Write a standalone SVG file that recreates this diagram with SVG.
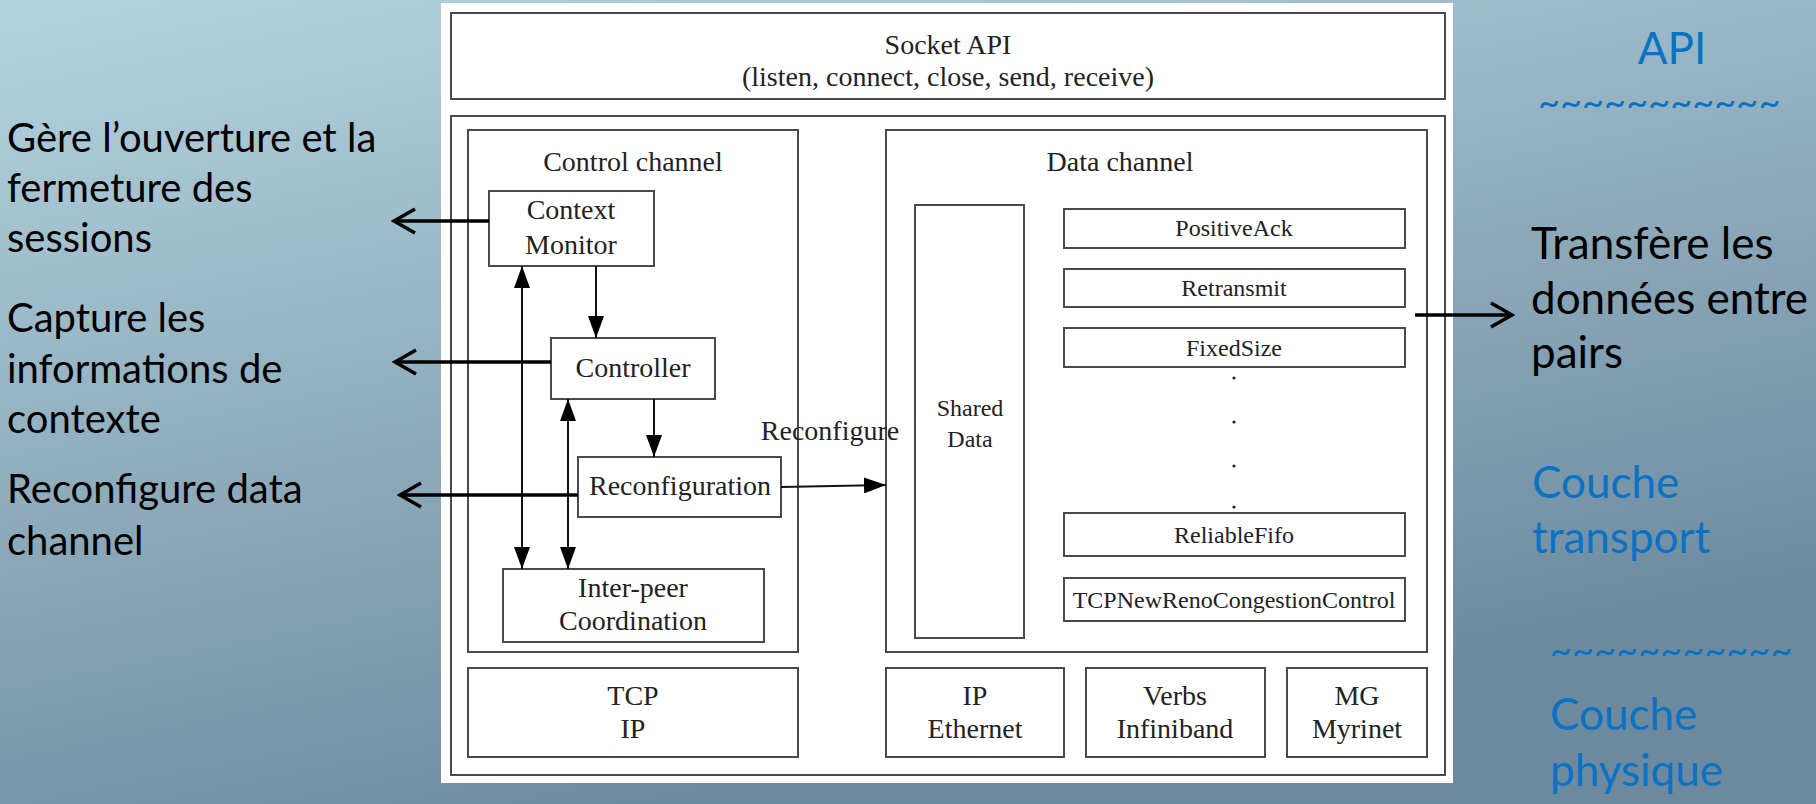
<svg xmlns="http://www.w3.org/2000/svg" width="1816" height="804" viewBox="0 0 1816 804">
<defs>
<linearGradient id="bg" x1="0" y1="0" x2="0.45" y2="1">
<stop offset="0" stop-color="#B5D3DF"/>
<stop offset="1" stop-color="#6D899E"/>
</linearGradient>
<marker id="fa" markerUnits="userSpaceOnUse" markerWidth="22" markerHeight="16" viewBox="0 0 22 16" refX="22" refY="8" orient="auto-start-reverse">
<path d="M0,0 L22,8 L0,16 z" fill="#000"/>
</marker>
<marker id="ch" markerUnits="userSpaceOnUse" markerWidth="26" markerHeight="30" viewBox="-2 -3 26 30" refX="21" refY="12" orient="auto">
<path d="M0,0 L21,12 L0,24" fill="none" stroke="#000" stroke-width="3.5"/>
</marker>
<style>
.box{fill:#fff;stroke:#4a4a4a;stroke-width:2}
.t{font-family:"Liberation Serif","Times New Roman",serif;font-size:28px;fill:#222;text-anchor:middle}
.s{font-size:24px}
.ann{font-family:Lato,"Open Sans",sans-serif;font-size:40px;fill:#000}
.big{font-size:44px}
.blue{fill:#0A72C4}
.tl{font-size:38px}
.cn{fill:none;stroke:#111;stroke-width:2}
.an{fill:none;stroke:#000;stroke-width:3.5}
</style>
</defs>
<rect x="0" y="0" width="1816" height="804" fill="url(#bg)"/>
<rect x="441" y="3" width="1012" height="780" fill="#fff"/>

<g id="socket-api">
<rect class="box" x="451" y="13" width="994" height="86"/>
<text class="t" x="948" y="54">Socket API</text>
<text class="t" x="948" y="86">(listen, connect, close, send, receive)</text>
</g>
<g id="outer">
<rect class="box" x="451" y="116" width="994" height="659"/>
</g>
<g id="control-channel">
<rect class="box" x="468" y="130" width="330" height="522"/>
<text class="t" x="633" y="171">Control channel</text>
</g>
<g id="data-channel">
<rect class="box" x="886" y="130" width="541" height="522"/>
<text class="t" x="1120" y="171">Data channel</text>
</g>
<g id="context-monitor">
<rect class="box" x="489" y="191" width="165" height="75"/>
<text class="t" x="571" y="219">Context</text>
<text class="t" x="571" y="254">Monitor</text>
</g>
<g id="controller">
<rect class="box" x="551" y="338" width="164" height="61"/>
<text class="t" x="633" y="377">Controller</text>
</g>
<g id="reconfiguration">
<rect class="box" x="578" y="457" width="203" height="60"/>
<text class="t" x="680" y="495">Reconfiguration</text>
</g>
<g id="inter-peer">
<rect class="box" x="503" y="569" width="261" height="73"/>
<text class="t" x="633" y="597">Inter-peer</text>
<text class="t" x="633" y="630">Coordination</text>
</g>
<g id="shared-data">
<rect class="box" x="915" y="205" width="109" height="433" stroke="#111"/>
<text class="t s" x="970" y="416">Shared</text>
<text class="t s" x="970" y="447">Data</text>
</g>
<g id="positiveack">
<rect class="box" x="1064" y="209" width="341" height="39"/>
<text class="t s" x="1234" y="236">PositiveAck</text>
</g>
<g id="retransmit">
<rect class="box" x="1064" y="269" width="341" height="38"/>
<text class="t s" x="1234" y="296">Retransmit</text>
</g>
<g id="fixedsize">
<rect class="box" x="1064" y="328" width="341" height="39"/>
<text class="t s" x="1234" y="356">FixedSize</text>
</g>
<g id="dots" fill="#222">
<circle cx="1234" cy="378" r="1.6"/>
<circle cx="1234" cy="422" r="1.6"/>
<circle cx="1234" cy="466" r="1.6"/>
<circle cx="1234" cy="507" r="1.6"/>
</g>
<g id="reliablefifo">
<rect class="box" x="1064" y="513" width="341" height="43"/>
<text class="t s" x="1234" y="543">ReliableFifo</text>
</g>
<g id="tcpnewreno">
<rect class="box" x="1064" y="578" width="341" height="43"/>
<text class="t s" x="1234" y="608">TCPNewRenoCongestionControl</text>
</g>
<g id="tcp-ip">
<rect class="box" x="468" y="668" width="330" height="89"/>
<text class="t" x="633" y="705">TCP</text>
<text class="t" x="633" y="738">IP</text>
</g>
<g id="ip-ethernet">
<rect class="box" x="886" y="668" width="178" height="89"/>
<text class="t" x="975" y="705">IP</text>
<text class="t" x="975" y="738">Ethernet</text>
</g>
<g id="verbs-infiniband">
<rect class="box" x="1086" y="668" width="179" height="89"/>
<text class="t" x="1175" y="705">Verbs</text>
<text class="t" x="1175" y="738">Infiniband</text>
</g>
<g id="mg-myrinet">
<rect class="box" x="1287" y="668" width="140" height="89"/>
<text class="t" x="1357" y="705">MG</text>
<text class="t" x="1357" y="738">Myrinet</text>
</g>

<g id="connectors">
<path class="cn" d="M596,266 V338" marker-end="url(#fa)"/>
<path class="cn" d="M522,266 V569" marker-start="url(#fa)" marker-end="url(#fa)"/>
<path class="cn" d="M568,399 V569" marker-start="url(#fa)" marker-end="url(#fa)"/>
<path class="cn" d="M654,399 V457" marker-end="url(#fa)"/>
<path class="cn" d="M781,487 L886,485" marker-end="url(#fa)"/>
<text class="t" x="830" y="440">Reconfigure</text>
<path class="an" d="M489,221 H394" marker-end="url(#ch)"/>
<path class="an" d="M551,362 H395" marker-end="url(#ch)"/>
<path class="an" d="M578,495 H400" marker-end="url(#ch)"/>
<path class="an" d="M1415,315 H1512" marker-end="url(#ch)"/>
</g>

<g id="annotations">
<text class="ann" x="7" y="152">Gère l’ouverture et la</text>
<text class="ann" x="7" y="202">fermeture des</text>
<text class="ann" x="7" y="252">sessions</text>
<text class="ann" x="7" y="332">Capture les</text>
<text class="ann" x="7" y="383">informations de</text>
<text class="ann" x="7" y="433">contexte</text>
<text class="ann" x="7" y="503">Reconfigure data</text>
<text class="ann" x="7" y="555">channel</text>
<text class="ann big" x="1531" y="259">Transfère les</text>
<text class="ann big" x="1531" y="314">données entre</text>
<text class="ann big" x="1531" y="368">pairs</text>
<text class="ann big blue" x="1672" y="64" text-anchor="middle">API</text>
<text class="ann blue tl" x="1538" y="116">~~~~~~~~~~~</text>
<text class="ann big blue" x="1532" y="498">Couche</text>
<text class="ann big blue" x="1532" y="553">transport</text>
<text class="ann blue tl" x="1550" y="664">~~~~~~~~~~~</text>
<text class="ann big blue" x="1550" y="730">Couche</text>
<text class="ann big blue" x="1550" y="786">physique</text>
</g>
</svg>
